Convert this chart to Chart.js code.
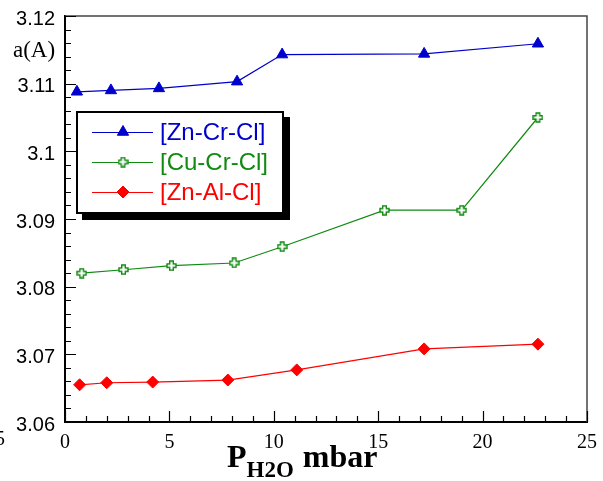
<!DOCTYPE html>
<html>
<head>
<meta charset="utf-8">
<script src="https://cdn.jsdelivr.net/npm/chart.js@4/dist/chart.umd.min.js"></script>
<style>
  body { margin: 0; background: #fff; }
  #wrap { width: 603px; height: 481px; }
</style>
</head>
<body>
<div id="wrap"><canvas id="chart" width="603" height="481"></canvas></div>
<script>
// values (P in mbar, lattice parameter a in A)
const seriesNames = ['[Zn-Cr-Cl]', '[Cu-Cr-Cl]', '[Zn-Al-Cl]'];
const znCrP = [0.57, 2.2, 4.5, 8.24, 10.4, 17.2, 22.65];
const znCrA = [3.1088, 3.1090, 3.1093, 3.1103, 3.1143, 3.1144, 3.1159];
const cuCrP = [0.8, 2.8, 5.1, 8.1, 10.4, 15.3, 19.0, 22.65];
const cuCrA = [3.0820, 3.0825, 3.0831, 3.0835, 3.0859, 3.0913, 3.0913, 3.1050];
const znAlP = [0.7, 2.0, 4.2, 7.8, 11.1, 17.2, 22.65];
const znAlA = [3.0655, 3.0658, 3.0659, 3.0662, 3.0677, 3.0708, 3.0715];
const xTicks = [0, 5, 10, 15, 20, 25];
const yTicks = [3.06, 3.07, 3.08, 3.09, 3.1, 3.11, 3.12];

const blue = '#0000cc';
const green = '#118a11';
const red = '#ff0000';

function pts(xs, ys) {
  return xs.map((x, i) => ({ x: x, y: ys[i] }));
}

// hollow plus marker for the Cu-Cr-Cl series
function makeCross() {
  const c = document.createElement('canvas');
  c.width = 11; c.height = 11;
  const g = c.getContext('2d');
  const m = 5.5, s = 4.5, a = 1.8;
  g.beginPath();
  g.moveTo(m - a, m - s); g.lineTo(m + a, m - s); g.lineTo(m + a, m - a);
  g.lineTo(m + s, m - a); g.lineTo(m + s, m + a); g.lineTo(m + a, m + a);
  g.lineTo(m + a, m + s); g.lineTo(m - a, m + s); g.lineTo(m - a, m + a);
  g.lineTo(m - s, m + a); g.lineTo(m - s, m - a); g.lineTo(m - a, m - a);
  g.closePath();
  g.fillStyle = '#fff';
  g.fill();
  g.strokeStyle = green;
  g.lineWidth = 1.4;
  g.stroke();
  return c;
}
const crossImg = makeCross();

const extras = {
  id: 'extras',
  afterDraw(chart) {
    const ctx = chart.ctx;
    const xs = chart.scales.x, ys = chart.scales.y;
    const area = chart.chartArea;
    ctx.save();

    // top and right frame
    ctx.strokeStyle = '#444';
    ctx.lineWidth = 1.5;
    ctx.beginPath();
    ctx.moveTo(area.left, area.top);
    ctx.lineTo(area.right, area.top);
    ctx.lineTo(area.right, area.bottom);
    ctx.stroke();

    // inward ticks, minor and major
    ctx.strokeStyle = '#000';
    ctx.lineWidth = 1.2;
    ctx.beginPath();
    for (let i = 0; i <= 30; i++) {
      const v = 3.06 + i * 0.002;
      const py = Math.round(ys.getPixelForValue(v)) + 0.5;
      const len = i % 5 === 0 ? 11 : 6;
      ctx.moveTo(area.left, py);
      ctx.lineTo(area.left + len, py);
    }
    for (let i = 0; i <= 25; i++) {
      const px = Math.round(xs.getPixelForValue(i)) + 0.5;
      const len = i % 5 === 0 ? 11 : 6;
      ctx.moveTo(px, area.bottom);
      ctx.lineTo(px, area.bottom - len);
    }
    ctx.stroke();

    // y axis title
    ctx.fillStyle = '#000';
    ctx.textBaseline = 'alphabetic';
    ctx.textAlign = 'left';
    ctx.font = '23px "Liberation Serif"';
    ctx.fillText('a(A)', 13, 57);

    // x axis title with subscript
    let x = 227;
    ctx.font = 'bold 32px "Liberation Serif"';
    ctx.fillText('P', x, 467);
    x += ctx.measureText('P').width;
    ctx.font = 'bold 23px "Liberation Serif"';
    ctx.fillText('H2O', x, 477);
    x += ctx.measureText('H2O').width + 9;
    ctx.font = 'bold 32px "Liberation Serif"';
    ctx.fillText('mbar', x, 467);

    // clipped stray label at the left edge
    ctx.font = '20px "Liberation Serif"';
    ctx.fillText('5', -5, 445);

    // legend box with shadow
    const bx = 77, by = 112, bw = 206, bh = 101;
    ctx.fillStyle = '#000';
    ctx.fillRect(bx + 5, by + 5, bw + 2, bh + 2);
    ctx.fillStyle = '#fff';
    ctx.fillRect(bx, by, bw, bh);
    ctx.strokeStyle = '#000';
    ctx.lineWidth = 2;
    ctx.strokeRect(bx, by, bw, bh);

    const rows = [132, 162, 192];
    chart.data.datasets.forEach((ds, i) => {
      const ry = rows[i];
      ctx.strokeStyle = ds.borderColor;
      ctx.lineWidth = 1;
      ctx.beginPath();
      ctx.moveTo(92, ry + 0.5);
      ctx.lineTo(153, ry + 0.5);
      ctx.stroke();
      ctx.fillStyle = ds.pointBackgroundColor;
      ctx.strokeStyle = ds.pointBorderColor;
      Chart.helpers.drawPoint(ctx, {
        pointStyle: ds.pointStyle,
        radius: ds.pointRadius,
        rotation: 0,
        borderWidth: 1
      }, 123, ry);
      ctx.fillStyle = ds.borderColor;
      ctx.font = '24px "Liberation Sans"';
      ctx.textAlign = 'left';
      ctx.textBaseline = 'middle';
      ctx.fillText(ds.label, 160, ry + 1);
    });

    ctx.restore();
  }
};

new Chart(document.getElementById('chart'), {
  type: 'line',
  data: {
    datasets: [
      {
        label: seriesNames[0],
        data: pts(znCrP, znCrA),
        borderColor: blue,
        borderWidth: 1.2,
        pointStyle: 'triangle',
        pointRadius: 6.5,
        pointBackgroundColor: blue,
        pointBorderColor: blue,
        pointBorderWidth: 1,
        tension: 0
      },
      {
        label: seriesNames[1],
        data: pts(cuCrP, cuCrA),
        borderColor: green,
        borderWidth: 1.2,
        pointStyle: crossImg,
        pointRadius: 5,
        pointBackgroundColor: '#fff',
        pointBorderColor: green,
        tension: 0
      },
      {
        label: seriesNames[2],
        data: pts(znAlP, znAlA),
        borderColor: red,
        borderWidth: 1.2,
        pointStyle: 'rectRot',
        pointRadius: 6,
        pointBackgroundColor: red,
        pointBorderColor: red,
        pointBorderWidth: 1,
        tension: 0
      }
    ]
  },
  options: {
    responsive: false,
    animation: false,
    layout: { padding: { top: 16, right: 16, left: 0, bottom: 0 } },
    plugins: {
      legend: { display: false },
      tooltip: { enabled: false }
    },
    scales: {
      x: {
        type: 'linear',
        min: 0,
        max: 25,
        afterFit: s => {
          s.height = 59;
          s.paddingLeft = 0;
          s.paddingRight = 0;
        },
        afterBuildTicks: s => { s.ticks = xTicks.map(v => ({ value: v })); },
        grid: { display: false, drawTicks: false },
        border: { display: true, color: '#000', width: 2 },
        ticks: {
          padding: 9,
          color: '#000',
          font: { family: '"Liberation Serif"', size: 20 },
          callback: v => String(v)
        }
      },
      y: {
        type: 'linear',
        min: 3.06,
        max: 3.12,
        afterFit: s => {
          s.width = 65;
          s.paddingTop = 0;
          s.paddingBottom = 0;
        },
        afterBuildTicks: s => { s.ticks = yTicks.map(v => ({ value: v })); },
        grid: { display: false, drawTicks: false },
        border: { display: true, color: '#000', width: 2 },
        ticks: {
          padding: 10,
          labelOffset: 3,
          color: '#000',
          font: { family: '"Liberation Sans"', size: 20 },
          callback: v => String(Number(v.toFixed(3)))
        }
      }
    }
  },
  plugins: [extras]
});
</script>
</body>
</html>
